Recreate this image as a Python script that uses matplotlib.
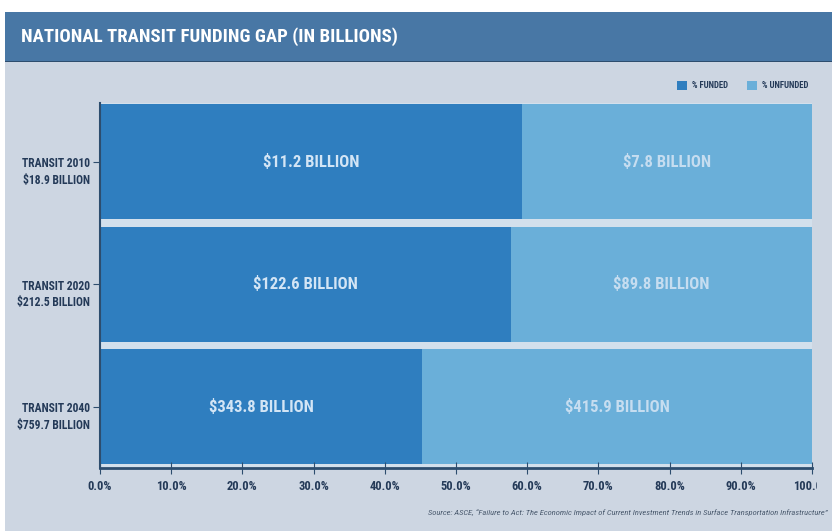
import matplotlib
matplotlib.use("Agg")
import matplotlib.pyplot as plt
from matplotlib import font_manager as fm
from matplotlib.patches import Rectangle
from matplotlib.transforms import Bbox

# narrowest bold face available
installed = {f.name for f in fm.fontManager.ttflist}
narrow = [f.name for f in fm.fontManager.ttflist
          if f.stretch in ("condensed", "semi-condensed", "extra-condensed", "ultra-condensed")
          or "Narrow" in f.name or "Condensed" in f.name]
FAMILY = None
for cand in ["Liberation Sans Narrow", "Roboto Condensed", "Open Sans Condensed",
             "Noto Sans Condensed", "DejaVu Sans Condensed"] + narrow:
    if cand in installed:
        FAMILY = cand
        break
if FAMILY is None:
    FAMILY = "DejaVu Sans"
matplotlib.rcParams["font.family"] = [FAMILY, "DejaVu Sans"]
matplotlib.rcParams["font.stretch"] = "condensed"

# Transit funding, billions of dollars
years = ["2010", "2020", "2040"]
funded = [11.2, 122.6, 343.8]
unfunded = [7.8, 89.8, 415.9]
totals = [18.9, 212.5, 759.7]
tick_pcts = [0, 10, 20, 30, 40, 50, 60, 70, 80, 90, 100]

BG = "#cdd6e2"
PLOT_BG = "#d3e0ec"
BAR_HEAD = "#4877a5"
C_FUNDED = "#2f7ebf"
C_UNFUNDED = "#6aafd9"
NAVY = "#243a58"
DARK = "#2d4d6e"

fig = plt.figure(figsize=(8.32, 5.31), dpi=100)
fig.patch.set_facecolor("white")

# page background and title band
bg = fig.add_axes([0, 0, 1, 1], zorder=-10)
bg.set_xlim(0, 832)
bg.set_ylim(531, 0)
bg.axis("off")
bg.add_patch(Rectangle((5, 62), 830, 470, facecolor=BG, edgecolor="none"))
bg.add_patch(Rectangle((5, 12), 830, 49, facecolor=BAR_HEAD, edgecolor="none"))
bg.add_patch(Rectangle((5, 60.5), 830, 1.8, facecolor=DARK, edgecolor="none"))
bg.text(21, 37, "NATIONAL TRANSIT FUNDING GAP (IN BILLIONS)",
        color="white", fontsize=13.5, fontweight="bold", va="center", ha="left")
bg.text(828, 513,
        "Source: ASCE, \u201cFailure to Act: The Economic Impact of Current Investment "
        "Trends in Surface Transportation Infrastructure\u201d",
        ha="right", va="center", fontsize=6.1, style="italic", color="#4a5a6e")

ax = fig.add_axes([100 / 832, 1 - 468 / 531, 712 / 832, 365 / 531])
ax.set_facecolor(PLOT_BG)

ypos = list(range(len(years)))
fpct = [f / t * 100 for f, t in zip(funded, totals)]
upct = [100 - p for p in fpct]
ax.barh(ypos, fpct, height=0.94, color=C_FUNDED, label="% FUNDED")
ax.barh(ypos, upct, left=fpct, height=0.94, color=C_UNFUNDED, label="% UNFUNDED")

for y, fp, up, f, u in zip(ypos, fpct, upct, funded, unfunded):
    ax.text(fp / 2, y, f"${f:g} BILLION", ha="center", va="center",
            color="#d3e5f5", fontsize=12, fontweight="bold")
    ax.text(fp + up / 2, y, f"${u:g} BILLION", ha="center", va="center",
            color="#c6ddf0", fontsize=12, fontweight="bold")

ax.set_xlim(0, 100)
ax.set_ylim(2.5, -0.48)
ax.set_xticks(tick_pcts)
ax.set_xticklabels([f"{p:.1f}%" for p in tick_pcts], fontsize=9,
                   fontweight="bold", color=NAVY)
# the last label runs past the panel edge and is cut there
last = ax.get_xticklabels()[-1]
last.set_clip_on(True)
last.set_clip_box(Bbox.from_extents(0, 0, 817, 531))

ax.set_yticks(ypos)
ax.set_yticklabels([])
for y, yr, t in zip(ypos, years, totals):
    ax.annotate(f"TRANSIT {yr}\n${t:g} BILLION", xy=(0, y + 0.03),
                xycoords=("axes fraction", "data"), xytext=(-7, 6),
                textcoords="offset points", ha="right", va="top",
                fontsize=8.4, fontweight="bold", color=NAVY, linespacing=1.35)

for s in ("top", "right"):
    ax.spines[s].set_visible(False)
ax.spines["left"].set_color(DARK)
ax.spines["bottom"].set_color(DARK)
ax.spines["left"].set_linewidth(1.5)
ax.spines["bottom"].set_linewidth(2)
ax.tick_params(axis="x", direction="inout", length=8, width=0.8, color=DARK, pad=5)
ax.tick_params(axis="y", direction="out", length=5, width=0.8, color=DARK)

leg = ax.legend(loc="lower right", bbox_to_anchor=(1.0, 1.025), ncol=2, frameon=False,
                prop={"size": 6.3, "weight": "bold"}, handlelength=1.1, handleheight=1.1,
                columnspacing=2.2, handletextpad=0.6, borderaxespad=0)
for t in leg.get_texts():
    t.set_color(NAVY)

fig.savefig("out.png", dpi=100, facecolor=fig.get_facecolor())
